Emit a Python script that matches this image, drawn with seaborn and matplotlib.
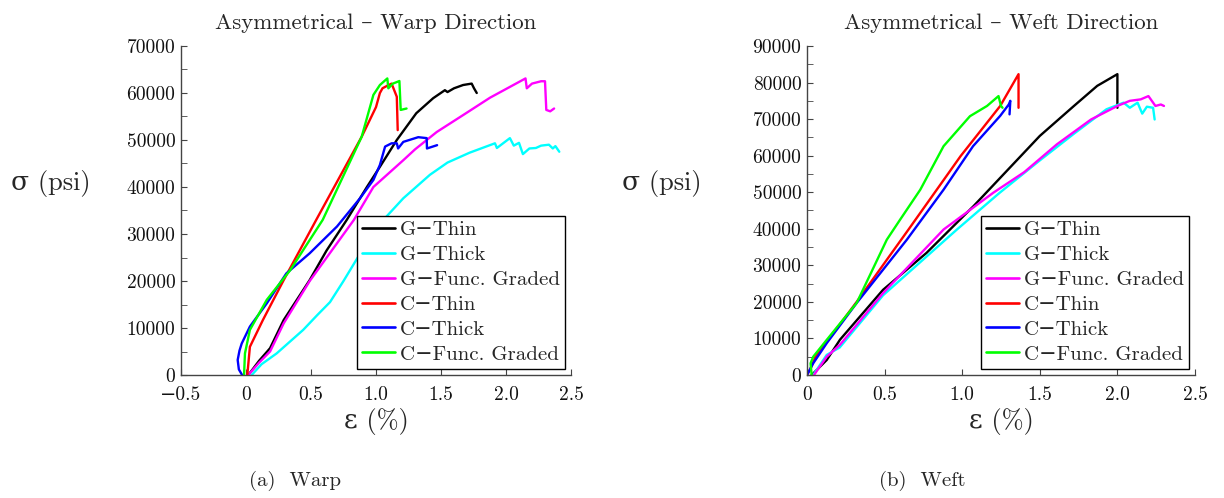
import numpy as np
import pandas as pd
import matplotlib
matplotlib.use("Agg")
import matplotlib.pyplot as plt
import seaborn as sns

# ---------------- data ----------------
series_names = ["G\u2212Thin", "G\u2212Thick", "G\u2212Func. Graded",
                "C\u2212Thin", "C\u2212Thick", "C\u2212Func. Graded"]
series_colors = ["#000000", "#00ffff", "#ff00ff", "#ff0000", "#0000ff", "#00ff00"]

# Warp direction (strain %, stress psi)
warp_g_thin_x = [0.018, 0.10, 0.185, 0.29, 0.49, 0.62, 0.775, 0.877, 0.93, 1.03, 1.16, 1.31, 1.44, 1.53, 1.55, 1.60, 1.67, 1.736, 1.754, 1.775]
warp_g_thin_y = [0, 3000, 5700, 11700, 20200, 26500, 33000, 37600, 40000, 44300, 50000, 55700, 58900, 60600, 60200, 61000, 61700, 62000, 61000, 60000]

warp_g_thick_x = [0.044, 0.12, 0.236, 0.44, 0.55, 0.646, 0.75, 0.877, 1.08, 1.21, 1.415, 1.55, 1.72, 1.915, 1.93, 2.03, 2.06, 2.10, 2.13, 2.18, 2.23, 2.27, 2.33, 2.36, 2.38, 2.41]
warp_g_thick_y = [0, 2300, 4600, 9600, 12800, 15500, 20000, 25800, 33700, 37600, 42600, 45200, 47300, 49300, 48300, 50400, 48800, 49400, 47000, 48200, 48300, 48800, 49000, 48200, 48700, 47500]

warp_g_fg_x = [0.018, 0.10, 0.185, 0.29, 0.49, 0.83, 0.98, 1.21, 1.30, 1.467, 1.67, 1.877, 2.13, 2.15, 2.16, 2.20, 2.27, 2.30, 2.31, 2.34, 2.37]
warp_g_fg_y = [0, 2600, 5000, 11000, 20000, 33000, 40000, 45700, 48000, 51700, 55300, 59000, 62800, 63100, 61000, 62000, 62500, 62500, 56400, 56100, 56700]

warp_c_thin_x = [0.01, 0.03, 0.13, 0.29, 0.54, 0.89, 1.00, 1.03, 1.05, 1.07, 1.12, 1.16, 1.167]
warp_c_thin_y = [0, 6000, 11700, 20200, 33000, 50700, 57000, 60000, 61000, 61300, 62000, 59200, 52100]

warp_c_thick_x = [-0.03, -0.055, -0.064, -0.05, -0.033, 0.03, 0.16, 0.31, 0.49, 0.70, 0.877, 0.98, 1.03, 1.07, 1.12, 1.16, 1.17, 1.21, 1.325, 1.39, 1.392, 1.47]
warp_c_thick_y = [0, 1200, 3200, 5200, 6700, 10300, 15250, 21600, 25900, 31600, 37600, 41500, 44700, 48600, 49300, 49300, 48200, 49600, 50600, 50400, 48200, 48900]

warp_c_fg_x = [-0.015, -0.008, 0.03, 0.16, 0.34, 0.59, 0.89, 0.98, 1.03, 1.087, 1.095, 1.13, 1.18, 1.19, 1.235]
warp_c_fg_y = [0, 4600, 9600, 16000, 22300, 33000, 50700, 59600, 61700, 63100, 61000, 62000, 62550, 56400, 56700]

# Weft direction
weft_g_thin_x = [0.03, 0.127, 0.213, 0.49, 0.77, 1.073, 1.50, 1.72, 1.87, 2.0, 2.0]
weft_g_thin_y = [0, 4100, 9680, 23300, 33400, 46200, 65400, 73600, 79100, 82300, 73100]

weft_g_thick_x = [0.04, 0.127, 0.21, 0.49, 0.966, 1.24, 1.50, 1.72, 1.93, 2.04, 2.08, 2.13, 2.16, 2.19, 2.23, 2.24]
weft_g_thick_y = [0, 5500, 7500, 21800, 39800, 49800, 58700, 66000, 72700, 74500, 73100, 74500, 71500, 73400, 73100, 69900]

weft_g_fg_x = [0.045, 0.127, 0.213, 0.49, 0.88, 1.20, 1.40, 1.61, 1.83, 2.0, 2.08, 2.15, 2.20, 2.245, 2.28, 2.30]
weft_g_fg_y = [0, 5000, 8300, 22400, 39800, 49850, 55500, 63100, 69900, 73600, 75000, 75400, 76300, 73600, 74000, 73600]

weft_c_thin_x = [0.0, 0.02, 0.055, 0.32, 0.654, 0.99, 1.245, 1.363, 1.363]
weft_c_thin_y = [0, 1500, 5000, 20000, 39800, 59900, 73600, 82300, 73100]

weft_c_thick_x = [0.0, 0.04, 0.127, 0.32, 0.643, 0.88, 1.07, 1.245, 1.30, 1.31, 1.305]
weft_c_thick_y = [0, 3200, 8700, 19700, 37000, 50700, 62600, 70900, 74000, 75000, 71300]

weft_c_fg_x = [0.03, 0.023, 0.04, 0.127, 0.32, 0.514, 0.60, 0.73, 0.88, 1.05, 1.16, 1.234, 1.25, 1.26]
weft_c_fg_y = [0, 3200, 5000, 9600, 19700, 37000, 42500, 50700, 62600, 70800, 73600, 76300, 73600, 73100]

warp_xticks = [-0.5, 0, 0.5, 1.0, 1.5, 2.0, 2.5]
warp_xticklabels = ["\u22120.5", "0", "0.5", "1.0", "1.5", "2.0", "2.5"]
warp_yticks = [0, 10000, 20000, 30000, 40000, 50000, 60000, 70000]
weft_xticks = [0, 0.5, 1.0, 1.5, 2.0, 2.5]
weft_xticklabels = ["0", "0.5", "1.0", "1.5", "2.0", "2.5"]
weft_yticks = [0, 10000, 20000, 30000, 40000, 50000, 60000, 70000, 80000, 90000]

titles = ["Asymmetrical \u2013 Warp Direction", "Asymmetrical \u2013 Weft Direction"]
captions = ["(a)  Warp", "(b)  Weft"]
xlabel_text = "\u03b5 (%)"
ylabel_text = "\u03c3 (psi)"


def make_df(xs, ys):
    rows = []
    for name, x, y in zip(series_names, xs, ys):
        for i, (a, b) in enumerate(zip(x, y)):
            rows.append({"series": name, "order": i, "strain": a, "stress": b})
    return pd.DataFrame(rows)


warp_df = make_df([warp_g_thin_x, warp_g_thick_x, warp_g_fg_x, warp_c_thin_x, warp_c_thick_x, warp_c_fg_x],
                  [warp_g_thin_y, warp_g_thick_y, warp_g_fg_y, warp_c_thin_y, warp_c_thick_y, warp_c_fg_y])
weft_df = make_df([weft_g_thin_x, weft_g_thick_x, weft_g_fg_x, weft_c_thin_x, weft_c_thick_x, weft_c_fg_x],
                  [weft_g_thin_y, weft_g_thick_y, weft_g_fg_y, weft_c_thin_y, weft_c_thick_y, weft_c_fg_y])

# ---------------- style ----------------
sns.set_style("ticks")
plt.rcParams["font.family"] = ["cmr10", "DejaVu Serif"]
plt.rcParams["mathtext.fontset"] = "cm"
plt.rcParams["axes.formatter.use_mathtext"] = True
plt.rcParams["axes.unicode_minus"] = True

palette = dict(zip(series_names, series_colors))

fig = plt.figure(figsize=(12.24, 4.98), dpi=100)
ax1 = fig.add_axes([181 / 1224, 123 / 498, 390 / 1224, 329 / 498])
ax2 = fig.add_axes([807 / 1224, 123 / 498, 388 / 1224, 329 / 498])

specs = [
    (ax1, warp_df, (-0.5, 2.5), (0, 70000), warp_xticks, warp_xticklabels, warp_yticks, -0.333),
    (ax2, weft_df, (0, 2.5), (0, 90000), weft_xticks, weft_xticklabels, weft_yticks, -0.374),
]

spine_color = "#444444"
for i, (ax, df, xl, yl, xt, xtl, yt, ylx) in enumerate(specs):
    sns.lineplot(data=df, x="strain", y="stress", hue="series", palette=palette,
                 hue_order=series_names, sort=False, estimator=None, units="series",
                 linewidth=1.7, ax=ax, legend=False)
    ax.set_xlim(*xl)
    ax.set_ylim(*yl)
    ax.set_xticks(xt)
    ax.set_xticklabels(xtl)
    ax.set_yticks(yt)
    ax.set_yticklabels([str(v) for v in yt])
    ax.set_yticks(np.arange(yl[0], yl[1] + 1, 5000), minor=True)
    ax.tick_params(axis="both", which="both", direction="in", length=4,
                   color=spine_color, labelsize=14, labelcolor="#111111")
    ax.tick_params(axis="y", pad=4)
    ax.tick_params(axis="x", pad=8)
    for s in ["top", "right"]:
        ax.spines[s].set_visible(False)
    for s in ["left", "bottom"]:
        ax.spines[s].set_color(spine_color)
        ax.spines[s].set_linewidth(1.0)
    ax.set_title(titles[i], fontsize=16.5, pad=12)
    ax.set_xlabel(xlabel_text, fontsize=19)
    ax.set_ylabel(ylabel_text, fontsize=19, rotation=0)
    ax.yaxis.set_label_coords(ylx, 0.54)
    ax.xaxis.set_label_coords(0.5, -0.10)
    handles = [plt.Line2D([0], [0], color=c, lw=1.9) for c in series_colors]
    leg = ax.legend(handles, series_names, loc="lower right", fontsize=15,
                    frameon=True, fancybox=False, framealpha=1, edgecolor="black",
                    handlelength=1.6, handletextpad=0.2, labelspacing=0.3,
                    borderpad=0.25, borderaxespad=0.3)
    leg.get_frame().set_linewidth(1.0)

fig.text(295 / 1224, 1 - 481 / 498, captions[0], fontsize=15, ha="center", va="center")
fig.text(922 / 1224, 1 - 481 / 498, captions[1], fontsize=15, ha="center", va="center")

fig.savefig("out.png", dpi=100, facecolor="white")
